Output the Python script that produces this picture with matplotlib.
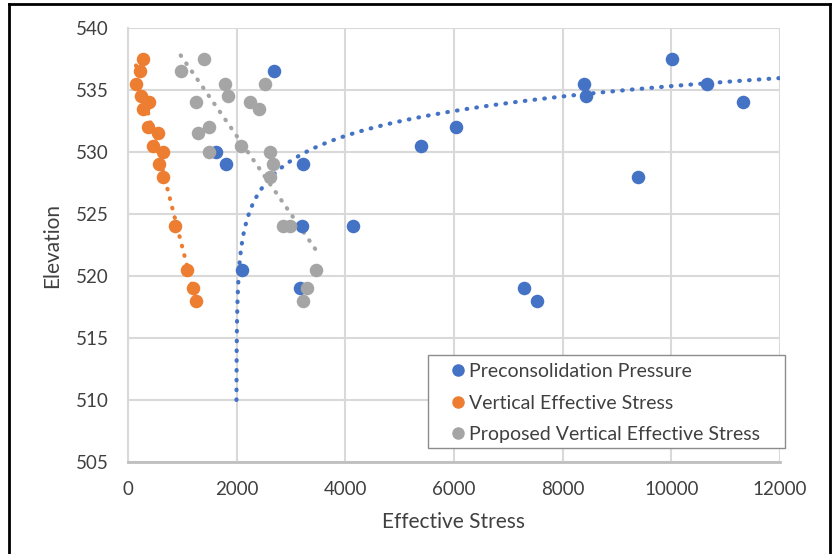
import numpy as np
import matplotlib
matplotlib.use("Agg")
import matplotlib.pyplot as plt
from matplotlib.lines import Line2D
from matplotlib.patches import Rectangle

plt.rcParams['font.family'] = ['Lato', 'DejaVu Sans']

# preconsolidation pressure (blue)
pre_stress = [10018, 2694, 8393, 10663, 8430, 11325, 6037, 5387, 1614, 1798,
              3215, 9381, 3196, 4147, 2092, 3166, 7294, 7534]
pre_elev = [537.5, 536.5, 535.5, 535.5, 534.5, 534.0, 532.0, 530.5, 530.0, 529.0,
            529.0, 528.0, 524.0, 524.0, 520.5, 519.0, 519.0, 518.0]

# vertical effective stress (orange)
ves_stress = [282, 221, 147, 233, 392, 282, 374, 546, 466, 638, 577, 638,
              865, 1092, 1190, 1252]
ves_elev = [537.5, 536.5, 535.5, 534.5, 534.0, 533.5, 532.0, 531.5, 530.5, 530.0,
            529.0, 528.0, 524.0, 520.5, 519.0, 518.0]

# proposed vertical effective stress (gray)
prop_stress = [1405, 970, 1785, 2522, 1847, 1252, 2245, 2411, 1491, 1282, 2080,
               1497, 2614, 2675, 2614, 2860, 2982, 3460, 3289, 3229]
prop_elev = [537.5, 536.5, 535.5, 535.5, 534.5, 534.0, 534.0, 533.5, 532.0, 531.5,
             530.5, 530.0, 530.0, 529.0, 528.0, 524.0, 524.0, 520.5, 519.0, 518.0]

# log trendline for preconsolidation: elev = a*ln(stress - c) + b
pre_trend_a, pre_trend_b, pre_trend_c = 2.9, 509.25, 1995.0

BLUE = '#4472C4'
ORANGE = '#ED7D31'
GRAY = '#A5A5A5'
TXT = '#404040'
DOTS = (0, (0.15, 2.2))

fig = plt.figure(figsize=(8.32, 5.54), dpi=100)
ax = fig.add_axes([128 / 832, 92 / 554, 652 / 832, 434 / 554])

# trendlines
ye = np.linspace(510, pre_trend_a * np.log(12000 - pre_trend_c) + pre_trend_b, 400)
xe = pre_trend_c + np.exp((ye - pre_trend_b) / pre_trend_a)
ax.plot(xe, ye, color=BLUE, lw=3, ls=DOTS, dash_capstyle='round', zorder=2)

for xs, ys, col in [(ves_stress, ves_elev, ORANGE), (prop_stress, prop_elev, GRAY)]:
    m, b = np.polyfit(xs, ys, 1)
    xx = np.array([min(xs), max(xs)])
    ax.plot(xx, m * xx + b, color=col, lw=3, ls=DOTS,
            dash_capstyle='round', zorder=2)

ax.scatter(pre_stress, pre_elev, s=95, color=BLUE, lw=0, zorder=3)
ax.scatter(ves_stress, ves_elev, s=95, color=ORANGE, lw=0, zorder=3)
ax.scatter(prop_stress, prop_elev, s=95, color=GRAY, lw=0, zorder=3)

ax.set_xlim(0, 12000)
ax.set_ylim(505, 540)
ax.set_xticks(np.arange(0, 12001, 2000))
ax.set_yticks(np.arange(505, 541, 5))
ax.grid(True, color='#D9D9D9', lw=1.5)
ax.set_axisbelow(True)
for s in ['top', 'right']:
    ax.spines[s].set_visible(False)
ax.spines['left'].set_color('#D9D9D9')
ax.spines['left'].set_linewidth(1.5)
ax.spines['bottom'].set_color('#BFBFBF')
ax.spines['bottom'].set_linewidth(2)
ax.tick_params(length=0, labelsize=13.5, labelcolor=TXT, pad=14)
ax.set_xlabel('Effective Stress', fontsize=15, color=TXT, labelpad=10)
ax.set_ylabel('Elevation', fontsize=15, color=TXT, labelpad=10)

# legend box, drawn under the legend entries
ax.add_patch(Rectangle((428 / 832, (554 - 448) / 554), 357 / 832, 93 / 554,
                       transform=fig.transFigure, facecolor='white',
                       edgecolor='#8C8C8C', lw=1.0, zorder=5, clip_on=False))
handles = [Line2D([], [], ls='', marker='o', ms=8, color=c, mec=c)
           for c in (BLUE, ORANGE, GRAY)]
leg = ax.legend(handles, ['Preconsolidation Pressure', 'Vertical Effective Stress',
                          'Proposed Vertical Effective Stress'],
                loc='upper left', bbox_to_anchor=(452 / 832, (554 - 363) / 554),
                bbox_transform=fig.transFigure, fontsize=14, frameon=False,
                handlelength=0.6, handletextpad=0.3, labelspacing=0.75,
                borderpad=0, borderaxespad=0, labelcolor=TXT)
leg.set_zorder(6)

# outer frame
for xs_, ys_ in [([9, 9], [0, 550]), ([9, 830], [550, 550]), ([830, 830], [0, 550])]:
    fig.add_artist(Line2D(np.array(xs_) / 832, np.array(ys_) / 554,
                          color='black', lw=2, transform=fig.transFigure))

fig.savefig('out.png', dpi=100)
